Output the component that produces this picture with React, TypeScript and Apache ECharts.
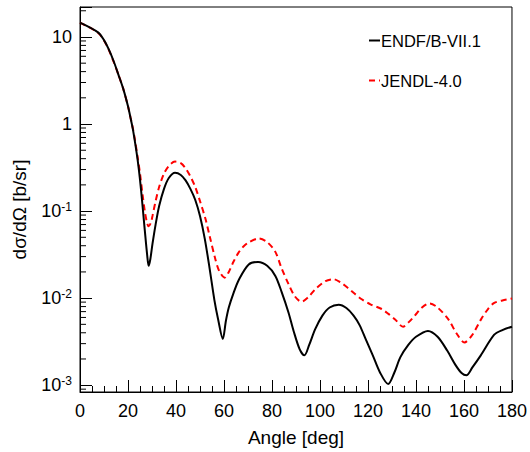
import React, { useEffect, useRef } from "react";
import * as echarts from "echarts";

// ENDF/B-VII.1 : [angle (deg), dσ/dΩ (b/sr)]
const endfAngles = [0, 7.5, 10, 12, 14, 16, 18, 20, 21, 22, 23, 24, 25, 26, 27, 28, 28.6, 29.3, 30.2, 31.5, 33, 35, 37, 39.6, 42, 44, 46, 48, 50, 52, 54, 56, 57.5, 59.5, 60.8, 62, 64, 66.2, 70.3, 74.2, 78, 81.4, 84, 86.9, 89, 91.5, 93.5, 95.5, 98, 101, 104, 107.8, 111, 114, 116.5, 119, 122, 125, 128.4, 131, 133.5, 136.8, 140, 145, 149, 153, 156.5, 159, 161, 163.5, 167, 172.6, 176, 180];
const endfValues = [14.6, 11.3, 9.2, 7.2, 5.3, 3.7, 2.55, 1.6, 1.2, 0.88, 0.6, 0.39, 0.23, 0.12, 0.06, 0.031, 0.0235, 0.028, 0.042, 0.07, 0.115, 0.18, 0.24, 0.275, 0.26, 0.225, 0.18, 0.135, 0.088, 0.048, 0.022, 0.0095, 0.0058, 0.0034, 0.0055, 0.0078, 0.0115, 0.0163, 0.0244, 0.026, 0.0235, 0.018, 0.0118, 0.0068, 0.0042, 0.0026, 0.0022, 0.0029, 0.0044, 0.0063, 0.0078, 0.0084, 0.0077, 0.0063, 0.0049, 0.0034, 0.0022, 0.0014, 0.00103, 0.0014, 0.0021, 0.0029, 0.0036, 0.0042, 0.0036, 0.0025, 0.0017, 0.00138, 0.0013, 0.0016, 0.0022, 0.0038, 0.0043, 0.0047];

// JENDL-4.0
const jendlAngles = [0, 7.5, 10, 12, 14, 16, 18, 20, 21, 22, 23, 24, 25, 26, 27, 28, 28.6, 29.5, 30.2, 31.5, 33, 35, 37, 39.6, 42, 44, 46, 48, 50, 52.3, 54, 56.4, 58, 60.3, 62, 64, 66, 68, 70.3, 74.5, 78, 81.4, 84, 86.9, 89.5, 92.3, 95, 98.1, 102.3, 105.6, 108.5, 111.8, 114.5, 117.4, 121, 125.7, 128.5, 131.3, 134.6, 137, 139.5, 142.5, 145.7, 149, 153.5, 157, 160.2, 163.5, 167.1, 170, 172.6, 176, 180];
const jendlValues = [14.6, 11.2, 9.1, 7.1, 5.2, 3.7, 2.55, 1.6, 1.2, 0.9, 0.63, 0.42, 0.27, 0.16, 0.1, 0.072, 0.067, 0.073, 0.088, 0.13, 0.19, 0.27, 0.33, 0.37, 0.355, 0.31, 0.25, 0.19, 0.13, 0.081, 0.052, 0.028, 0.0205, 0.0172, 0.02, 0.0263, 0.0331, 0.0389, 0.0437, 0.0485, 0.044, 0.034, 0.022, 0.0145, 0.0105, 0.0091, 0.0102, 0.0127, 0.0157, 0.0165, 0.0152, 0.013, 0.0112, 0.0097, 0.0085, 0.0075, 0.0066, 0.0057, 0.0047, 0.0053, 0.0063, 0.0078, 0.0087, 0.0078, 0.0057, 0.0039, 0.0031, 0.0038, 0.0057, 0.0075, 0.0088, 0.0094, 0.0099];

const seriesNames = ["ENDF/B-VII.1", "JENDL-4.0"];
const xTicks = [0, 20, 40, 60, 80, 100, 120, 140, 160, 180];
const yDecades = [0.001, 0.01, 0.1, 1, 10];
const minorMultipliers = [2, 3, 4, 5, 6, 7, 8, 9];
const Y_MIN = 8.35e-4;
const Y_MAX = 22.1;

const FONT = "'Liberation Sans', Arial, Helvetica, sans-serif";

export default function App() {
  const ref = useRef<HTMLDivElement>(null);

  useEffect(() => {
    if (!ref.current) return;
    const chart = echarts.init(ref.current, null, { renderer: "svg" });

    const minorTicks: number[] = [];
    [0.0001, ...yDecades].forEach((d) => {
      minorMultipliers.forEach((m) => {
        const v = d * m;
        if (v > Y_MIN && v < Y_MAX) minorTicks.push(v);
      });
    });

    const isPow = (v: number) => {
      const l = Math.log10(v);
      return Math.abs(l - Math.round(l)) < 1e-6;
    };

    chart.setOption({
      animation: false,
      backgroundColor: "#fff",
      textStyle: { fontFamily: FONT },
      grid: {
        left: 80,
        right: 16,
        top: 7,
        bottom: 59,
        show: true,
        borderColor: "#000",
        borderWidth: 1,
        backgroundColor: "transparent",
      },
      legend: {
        data: seriesNames,
        orient: "vertical",
        left: 368,
        top: 32,
        padding: 0,
        itemWidth: 11,
        itemHeight: 16,
        itemGap: 23,
        itemStyle: { opacity: 0 },
        textStyle: { fontSize: 16.5, color: "#000", fontFamily: FONT, padding: [0, 0, 0, -4] },
      },
      xAxis: {
        type: "value",
        min: 0,
        max: 180,
        interval: 20,
        name: "Angle [deg]",
        nameLocation: "middle",
        nameGap: 36,
        nameTextStyle: { fontSize: 19, color: "#000", fontFamily: FONT },
        axisLine: { onZero: false, lineStyle: { color: "#000", width: 1 } },
        axisTick: { inside: true, length: 12, lineStyle: { color: "#000" } },
        minorTick: { show: true, splitNumber: 4, length: 6, lineStyle: { color: "#000" } },
        axisLabel: {
          fontSize: 18,
          color: "#000",
          margin: 10,
          fontFamily: FONT,
          formatter: (v: number) => (xTicks.includes(v) ? String(v) : ""),
        },
        splitLine: { show: false },
      },
      yAxis: {
        type: "log",
        min: Y_MIN,
        max: Y_MAX,
        name: "dσ/dΩ [b/sr]",
        nameLocation: "middle",
        nameGap: 51,
        nameTextStyle: { fontSize: 19, color: "#000", fontFamily: FONT, padding: [0, 20, 0, 0] },
        axisLine: { lineStyle: { color: "#000", width: 1 } },
        axisTick: { inside: true, length: 12, lineStyle: { color: "#000" } },
        axisLabel: {
          color: "#000",
          margin: 8,
          fontFamily: FONT,
          formatter: (v: number) => {
            if (!isPow(v)) return "";
            const e = Math.round(Math.log10(v));
            if (e === 0) return "{b|1}";
            if (e === 1) return "{b|10}";
            return "{b|10}{s|" + e + "}";
          },
          rich: {
            b: { fontSize: 18, color: "#000", fontFamily: FONT, lineHeight: 20 },
            s: { fontSize: 12, color: "#000", fontFamily: FONT, verticalAlign: "top", lineHeight: 12 },
          },
        },
        splitLine: { show: false },
      },
      series: [
        {
          name: seriesNames[1],
          type: "line",
          data: jendlAngles.map((a, i) => [a, jendlValues[i]]),
          showSymbol: false,
          symbol: "none",
          smooth: 0.3,
          lineStyle: { color: "#ff0000", width: 2, type: [6, 4] },
          itemStyle: { color: "#ff0000" },
          z: 2,
        },
        {
          name: seriesNames[0],
          type: "line",
          data: endfAngles.map((a, i) => [a, endfValues[i]]),
          showSymbol: false,
          symbol: "none",
          smooth: 0.3,
          lineStyle: { color: "#000", width: 2 },
          itemStyle: { color: "#000" },
          z: 3,
        },
        {
          name: "minorTicks",
          type: "custom",
          silent: true,
          data: minorTicks.map((v) => [0, v]),
          renderItem: (_params: any, api: any) => {
            const p = api.coord([0, api.value(1)]);
            return {
              type: "line",
              shape: { x1: p[0], y1: p[1], x2: p[0] + 6, y2: p[1] },
              style: { stroke: "#000", lineWidth: 1 },
            };
          },
          z: 4,
        },
      ],
    });

    return () => chart.dispose();
  }, []);

  return (
    <div
      ref={ref}
      style={{ position: "fixed", left: 0, top: 0, width: 530, height: 452, background: "#fff" }}
    />
  );
}
